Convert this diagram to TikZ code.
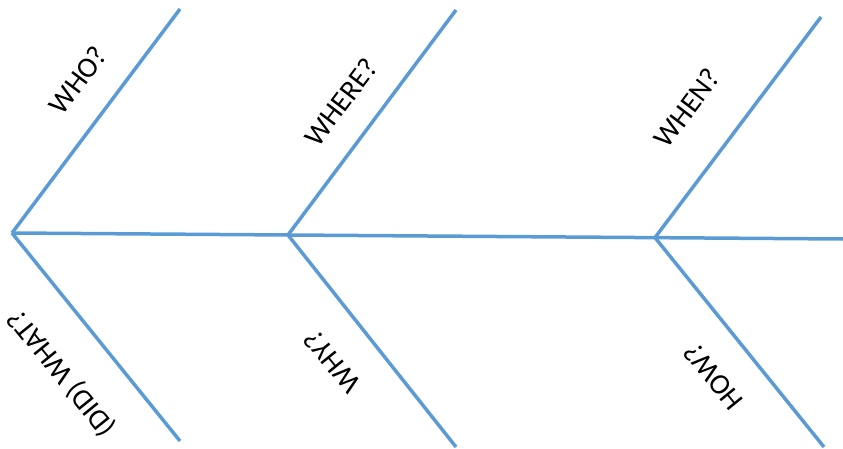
\documentclass[tikz,border=0pt]{standalone}
\usepackage{fontspec}
\setmainfont{Carlito}
\definecolor{bone}{HTML}{5B9BD5}
\begin{document}
\begin{tikzpicture}[x=1pt,y=-1pt,
  bonestyle/.style={draw=bone,line width=3.5pt},
  uplabel/.style={font=\fontsize{29}{34}\selectfont,rotate=53,inner sep=0pt},
  downlabel/.style={font=\fontsize{29}{34}\selectfont,rotate=129,inner sep=0pt}]
\useasboundingbox (0,0) rectangle (843,449);
% spine
\coordinate (head) at (12,233);
\coordinate (tail) at (843,239);
\coordinate (j2) at (288,235);
\coordinate (j3) at (655,237.6);
% branch ends
\coordinate (u1) at (180,9);
\coordinate (u2) at (456,10);
\coordinate (u3) at (821,17);
\coordinate (d1) at (180,441);
\coordinate (d2) at (456,447);
\coordinate (d3) at (824,447);
\draw[bonestyle] (head) -- (tail);
\draw[bonestyle] (head) -- (u1);
\draw[bonestyle] (j2) -- (u2);
\draw[bonestyle] (j3) -- (u3);
\draw[bonestyle] (head) -- (d1);
\draw[bonestyle] (j2) -- (d2);
\draw[bonestyle] (j3) -- (d3);
% labels
\node[uplabel] (who) at (78,80) {WHO?};
\node[uplabel] (where) at (341,102) {WHERE?};
\node[uplabel] (when) at (687,108) {WHEN?};
\node[downlabel] (what) at (62,373) {(DID) WHAT?};
\node[downlabel] (why) at (332,362) {WHY?};
\node[downlabel] (how) at (713,377) {HOW?};
\end{tikzpicture}
\end{document}
